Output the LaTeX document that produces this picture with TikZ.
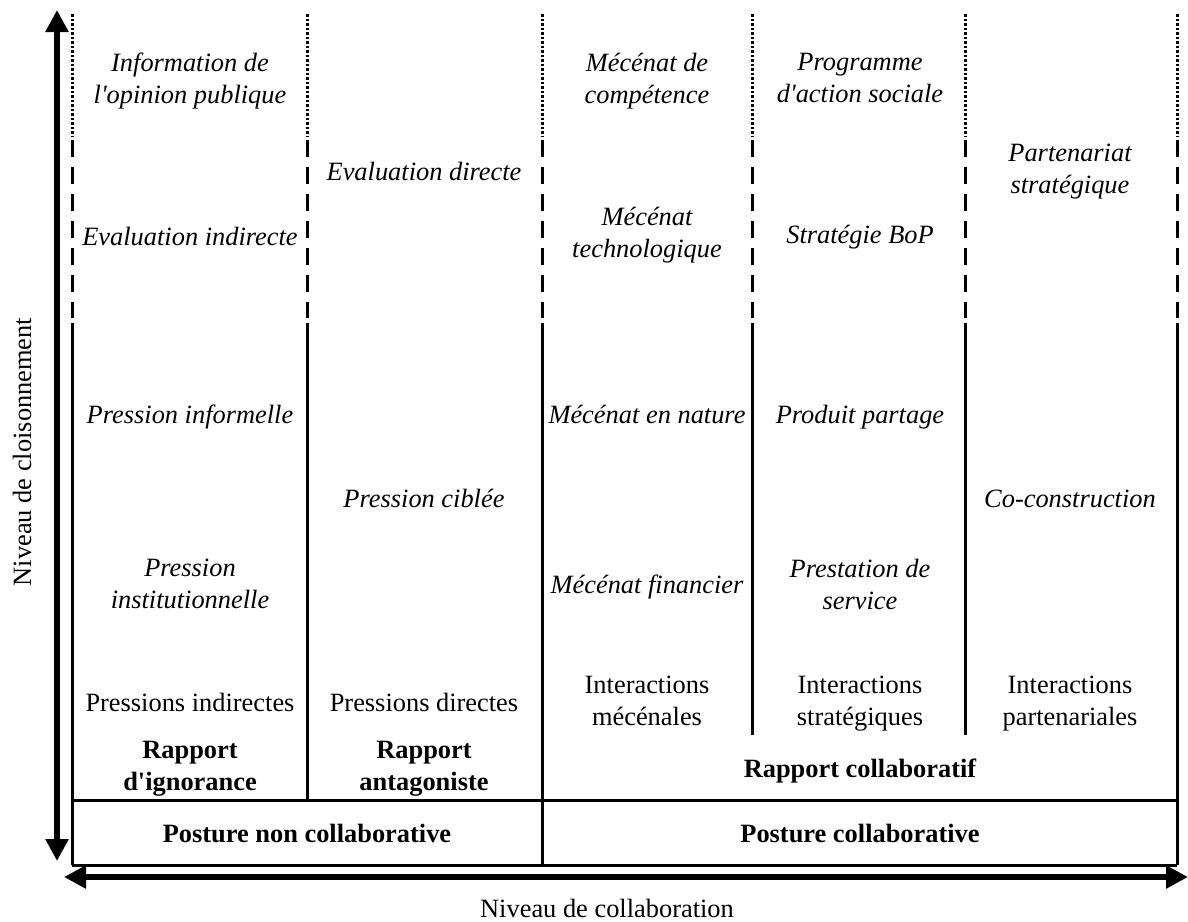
\documentclass[tikz,border=0pt]{standalone}
\usepackage{fontspec}
\setmainfont{Liberation Serif}
\usetikzlibrary{arrows.meta}
\newcommand{\apo}{\textquotesingle}
\begin{document}
\begin{tikzpicture}[x=1pt,y=-1pt,
  every node/.style={font=\fontsize{26.4}{32}\selectfont, align=center, inner sep=0pt},
  txt/.style={execute at begin node=\strut, execute at end node=\strut, yshift=-4pt},
  it/.style={txt, font=\fontsize{26.4}{32}\selectfont\itshape},
  bf/.style={txt, font=\fontsize{26.4}{32}\selectfont\bfseries},
  rm/.style={txt},
  grid/.style={line width=3pt},
  dotpart/.style={grid, dash pattern=on 2.5pt off 2pt},
  dashpart/.style={grid, dash pattern=on 17pt off 10pt},
  axis/.style={line width=6pt, {Triangle[length=22pt,width=22pt]}-{Triangle[length=22pt,width=22pt]}}
]
\useasboundingbox (0,0) rectangle (1188,921);

% column separators
\foreach \x/\e in {72/865,307/800,542/865,752/735,965/735,1177/865}{
  \draw[dotpart] (\x,14) -- (\x,136);
  \draw[dashpart] (\x,140) -- (\x,318);
  \draw[grid] (\x,323) -- (\x,\e);
}
% horizontal lines
\coordinate (hl1) at (72,800);
\coordinate (hr1) at (1177,800);
\coordinate (hl2) at (72,865);
\coordinate (hr2) at (1177,865);
\draw[grid] (hl1) -- (hr1);
\draw[grid] (hl2) -- (hr2);

% axes
\coordinate (vb) at (57,861);
\coordinate (vt) at (57,10);
\coordinate (hlft) at (64,877);
\coordinate (hrgt) at (1188,877);
\draw[axis] (vb) -- (vt);
\draw[axis] (hlft) -- (hrgt);

\node[rotate=90] (ycl) at (22,452) {Niveau de cloisonnement};
\node (xcl) at (607,908) {Niveau de collaboration};

% column 1
\node[it] (c1a) at (190,79) {Information de\\l\apo opinion publique};
\node[it] (c1b) at (190,235) {Evaluation indirecte};
\node[it] (c1c) at (190,413) {Pression informelle};
\node[it] (c1d) at (190,585) {Pression\\institutionnelle};
\node[rm] (c1e) at (190,701) {Pressions indirectes};
\node[bf] (c1f) at (190,767) {Rapport\\d\apo ignorance};

% column 2
\node[it] (c2a) at (424,170) {Evaluation directe};
\node[it] (c2b) at (424,497) {Pression ciblée};
\node[rm] (c2c) at (424,701) {Pressions directes};
\node[bf] (c2d) at (424,767) {Rapport\\antagoniste};

% column 3
\node[it] (c3a) at (647,79) {Mécénat de\\compétence};
\node[it] (c3b) at (647,233) {Mécénat\\technologique};
\node[it] (c3c) at (647,413) {Mécénat en nature};
\node[it] (c3d) at (647,583) {Mécénat financier};
\node[rm] (c3e) at (647,702) {Interactions\\mécénales};

% column 4
\node[it] (c4a) at (860,79) {Programme\\d\apo action sociale};
\node[it] (c4b) at (860,233) {Stratégie BoP};
\node[it] (c4c) at (860,413) {Produit partage};
\node[it] (c4d) at (860,585) {Prestation de\\service};
\node[rm] (c4e) at (860,702) {Interactions\\stratégiques};

% column 5
\node[it] (c5a) at (1070,170) {Partenariat\\stratégique};
\node[it] (c5b) at (1070,497) {Co-construction};
\node[rm] (c5c) at (1070,702) {Interactions\\partenariales};

\node[bf] (rc) at (860,767) {Rapport collaboratif};
\node[bf] (pnc) at (307,832) {Posture non collaborative};
\node[bf] (pc) at (860,832) {Posture collaborative};
\end{tikzpicture}
\end{document}
